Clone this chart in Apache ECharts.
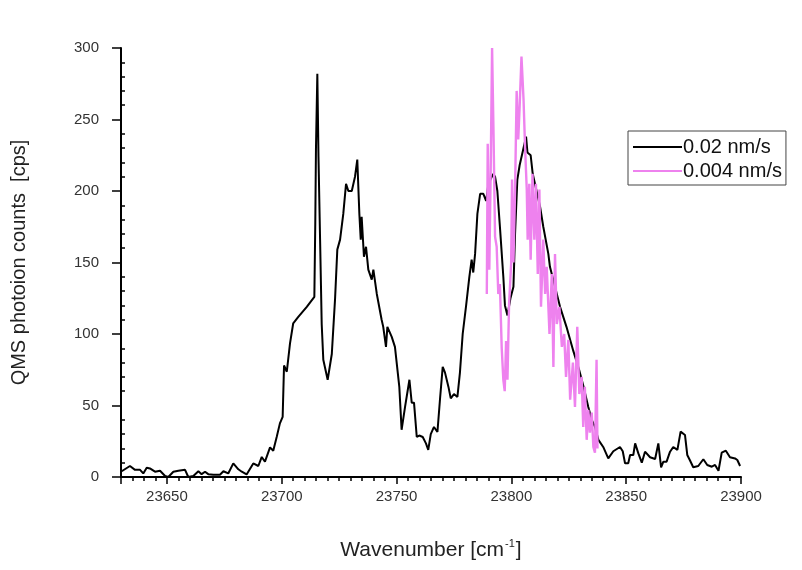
<!DOCTYPE html>
<html>
<head>
<meta charset="utf-8">
<script src="https://cdn.jsdelivr.net/npm/echarts@6/dist/echarts.min.js"></script>
<style>
  html, body { margin: 0; padding: 0; background: #fff; }
  #chart { width: 802px; height: 570px; }
</style>
</head>
<body>
<div id="chart"></div>
<script>
// 0.02 nm/s scan (black)
var blackWn = [23630.3, 23633.9, 23636.1, 23638.3, 23639.7, 23641.2, 23642.6, 23644.8, 23647, 23649.2,
    23650.6, 23652.8, 23655, 23657.9, 23659.3, 23661.5, 23663.7, 23665.1, 23666.6, 23668,
    23670.2, 23673.1, 23674.6, 23676.7, 23678.9, 23681.1, 23682.6, 23684.7, 23687.6, 23689.8,
    23691.3, 23692.7, 23694.9, 23696.3, 23697.8, 23699.2, 23700.4, 23701, 23702.2, 23703.6,
    23705, 23707.2, 23710.9, 23714.2, 23714.6, 23714.9, 23715.5, 23716, 23716.7, 23717.4,
    23718.1, 23720, 23721.8, 23723.2, 23724.2, 23725.4, 23726.8, 23728, 23729, 23730.5,
    23731.9, 23732.9, 23733.8, 23734.4, 23734.8, 23735.8, 23736.7, 23737.7, 23739.2, 23739.9,
    23741.4, 23743.5, 23744.2, 23745.4, 23746, 23747.9, 23749.3, 23750, 23751.2, 23752.2,
    23753.7, 23755.6, 23756.6, 23757.6, 23758.8, 23759.9, 23761.4, 23762.8, 23763.8, 23764.9,
    23766.3, 23767.8, 23768.9, 23770.1, 23771.1, 23772.6, 23773.6, 23775, 23776.5, 23777.6,
    23778.8, 23780.3, 23781.7, 23782.7, 23783.4, 23784.2, 23785.2, 23786.4, 23787.8, 23789,
    23790, 23792.1, 23792.9, 23793.9, 23795.1, 23796.5, 23797.2, 23798.3, 23799.6, 23800.9,
    23801.6, 23802.6, 23803.6, 23806.4, 23807, 23808.4, 23809.3, 23812.5, 23813.9, 23816.1,
    23816.8, 23821.2, 23824, 23827, 23829.5, 23831.3, 23833.5, 23835, 23836.4, 23837.9,
    23840, 23842.2, 23844.4, 23847.3, 23848.5, 23849.5, 23850.9, 23851.7, 23853.1, 23853.9,
    23855.3, 23856.8, 23858.2, 23860.4, 23862.6, 23864, 23865.2, 23866.2, 23867.6, 23869.1,
    23870.5, 23872.3, 23873.7, 23875.6, 23876.6, 23877.7, 23879.2, 23881.4, 23883.6, 23885.3,
    23887.3, 23888.7, 23890.2, 23891.6, 23893.4, 23895.2, 23897.4, 23898.4, 23899.6];
var blackCps = [4, 7.7, 5, 5, 2.5, 6.5, 6, 3.7, 4.4, 0.7,
    0, 3.7, 4.4, 5, 0, 0.7, 4, 2, 3.7, 2,
    1.6, 1.6, 4, 2.5, 9.5, 5.4, 3.7, 1.8, 9.5, 7.7,
    14, 10.7, 20.7, 18.4, 28, 37.5, 42, 78, 73.6, 93.5,
    107.5, 112, 119, 126, 177, 229, 282, 224, 166, 107,
    82, 68, 86, 124, 159, 166, 184, 205, 200, 200,
    210, 222, 184, 166, 182, 154, 161, 145, 138, 145,
    128, 110, 105, 91, 105, 98, 91, 91, 63, 33,
    49, 68, 52, 52, 28, 29, 28, 23.5, 19, 30,
    35, 31.5, 54, 77, 73, 63, 55, 58, 56, 73,
    100, 120, 140, 152, 143, 156, 184, 198, 198, 193,
    205, 212, 210, 200, 173, 140, 120, 113, 125, 133,
    170, 208, 218, 238, 227, 225, 212, 189, 175, 156,
    147, 119, 105, 88, 75, 64, 49, 40, 35, 26,
    21, 13, 18, 21, 18, 9.6, 9.6, 15.4, 15.4, 23.5,
    16.5, 10, 17.7, 13.8, 12.6, 23.5, 6.8, 10.7, 10.7, 17.7,
    21, 19, 31.7, 29.4, 15.4, 11.9, 6.8, 7.7, 12.4, 8.4,
    7.2, 8.4, 4.4, 17, 18.4, 13.8, 13, 11.9, 7.7];

// 0.004 nm/s scan (violet)
var pinkWn = [23789.3, 23789.7, 23790.4, 23791, 23791.6, 23792.2, 23792.9, 23793.6, 23794.3, 23795,
    23795.8, 23796.5, 23797.1, 23797.7, 23798.3, 23799, 23799.9, 23800.3, 23800.9, 23801.6,
    23802.3, 23803, 23803.6, 23804.4, 23805.3, 23806, 23806.7, 23807.1, 23807.8, 23808.4,
    23809.2, 23810, 23810.7, 23811.5, 23812.2, 23812.9, 23813.9, 23814.7, 23815.4, 23816.6,
    23817.6, 23818.3, 23819, 23819.8, 23820.9, 23822, 23823, 23823.8, 23824.8, 23825.6,
    23826.8, 23827.7, 23828.7, 23829.6, 23830.6, 23831.3, 23832, 23832.8, 23833.5, 23834.2,
    23835, 23835.7, 23836.4, 23837.1, 23837.5];
var pinkCps = [128, 233, 145, 215, 300, 243, 168, 161, 128, 135,
    90, 68, 60, 95, 68, 121, 149, 208, 150, 200,
    270, 236, 259, 294, 264, 229, 201, 166, 205, 152,
    212, 166, 205, 142, 201, 119, 166, 128, 147, 100,
    142, 77, 156, 107, 119, 91, 100, 70, 96, 54,
    80, 49, 105, 58, 70, 35, 63, 26, 47, 31,
    45, 21, 17, 82, 20];

var xTicks = [23650, 23700, 23750, 23800, 23850, 23900];

function zip(xs, ys) {
    var out = [];
    for (var i = 0; i < xs.length; i++) {
        out.push([xs[i], ys[i]]);
    }
    return out;
}

var labelFont = 'Liberation Sans';
var chart = echarts.init(document.getElementById('chart'));

var option = {
    animation: false,
    backgroundColor: '#fff',
    grid: { left: 121, right: 61, top: 48, bottom: 93 },
    legend: {
        orient: 'vertical',
        left: 628,
        top: 131,
        padding: [6, 4, 4, 5],
        borderColor: '#444',
        borderWidth: 1,
        icon: 'rect',
        itemWidth: 49,
        itemHeight: 2,
        itemGap: 4,
        textStyle: { fontFamily: labelFont, fontSize: 20, color: '#111', padding: [0, 0, 0, -4] },
        data: ['0.02 nm/s', '0.004 nm/s']
    },
    xAxis: {
        type: 'value',
        min: 23630,
        max: 23900,
        name: 'Wavenumber [cm{sup|-1}]',
        nameLocation: 'middle',
        nameGap: 61,
        nameTextStyle: {
            fontFamily: labelFont, fontSize: 21, color: '#222',
            rich: { sup: { fontSize: 11, verticalAlign: 'top', lineHeight: 24, padding: [0, 1, 12, 1] } }
        },
        splitLine: { show: false },
        axisLine: { onZero: false, lineStyle: { color: '#000', width: 2 } },
        axisTick: { length: 7, lineStyle: { color: '#000', width: 1.5 } },
        minorTick: { show: true, splitNumber: 10, length: 4, lineStyle: { color: '#000', width: 1.5 } },
        axisLabel: {
            showMinLabel: false,
            margin: 12,
            fontFamily: labelFont, fontSize: 15, color: '#333',
            formatter: function (v) { return xTicks.indexOf(v) >= 0 ? String(v) : ''; }
        }
    },
    yAxis: [{
        type: 'value',
        min: 0,
        max: 300,
        interval: 50,
        name: 'QMS photoion counts  [cps]',
        nameLocation: 'middle',
        nameGap: 92,
        nameTextStyle: { fontFamily: labelFont, fontSize: 20, color: '#222' },
        splitLine: { show: false },
        axisLine: { lineStyle: { color: '#000', width: 2 } },
        axisTick: { length: 9, lineStyle: { color: '#000', width: 1.5 } },
        axisLabel: { margin: 22, fontFamily: labelFont, fontSize: 15, color: '#333' }
    }, {
        type: 'value',
        min: 0,
        max: 300,
        interval: 50,
        position: 'left',
        splitLine: { show: false },
        axisLine: { show: false },
        axisTick: { show: false, inside: true },
        minorTick: { show: true, splitNumber: 5, length: 4, lineStyle: { color: '#000', width: 1.5 } },
        axisLabel: { show: false }
    }],
    series: [{
        name: '0.02 nm/s',
        type: 'line',
        symbol: 'none',
        color: '#000',
        lineStyle: { color: '#000', width: 2 },
        data: zip(blackWn, blackCps)
    }, {
        name: '0.004 nm/s',
        type: 'line',
        symbol: 'none',
        color: '#ee82ee',
        lineStyle: { color: '#ee82ee', width: 2.4 },
        data: zip(pinkWn, pinkCps)
    }]
};

chart.setOption(option);
</script>
</body>
</html>
